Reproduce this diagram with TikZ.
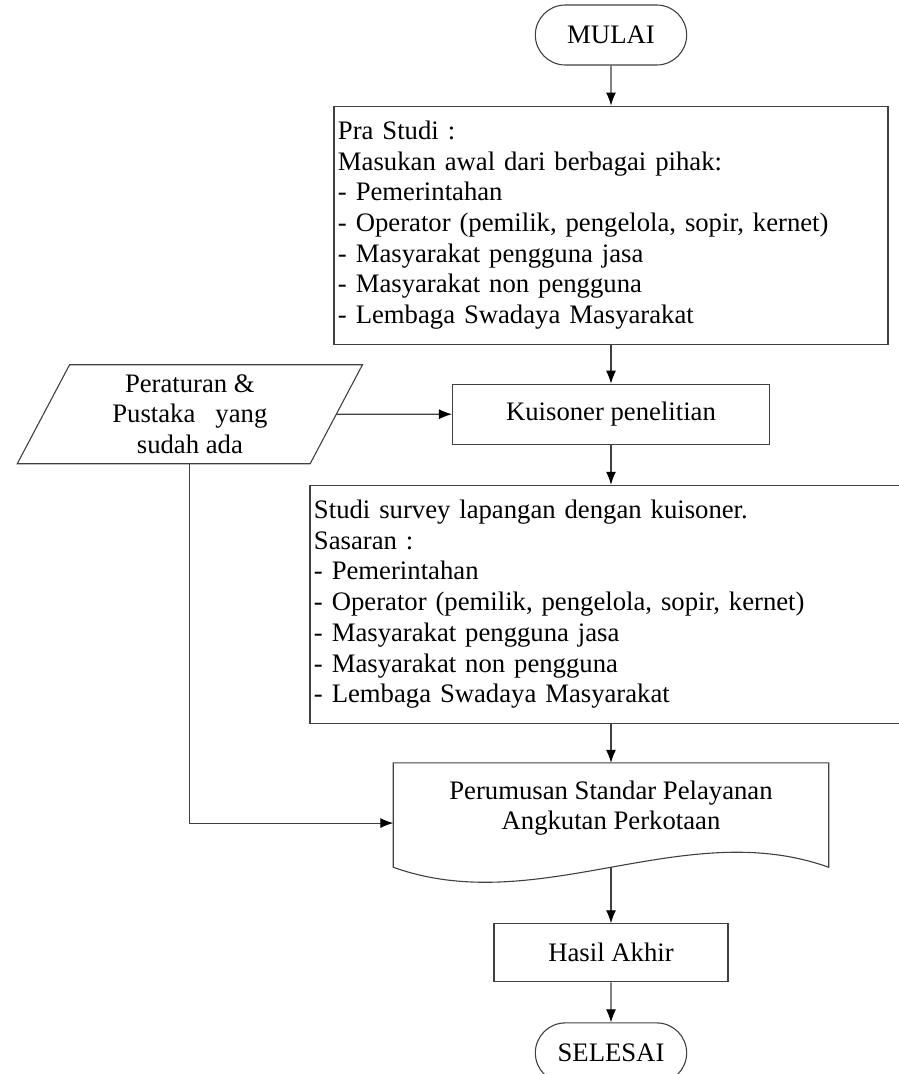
\documentclass[tikz,border=0pt]{standalone}
\usepackage{fontspec}
\setmainfont{Liberation Serif}
\usepackage{tikz}
\usetikzlibrary{shapes.geometric,shapes.misc,positioning,arrows.meta,calc}
\tikzstyle{arrow} = [draw, line width=1.1pt, draw=black!75, -{Latex[length=13pt,width=10pt,black]}]
\tikzstyle{line} = [draw, line width=1.1pt, draw=black!75]
\tikzset{
 tt/.style
  = {rounded rectangle, draw=black!75, line width=1.1pt, minimum width=158pt, minimum height=60pt},
 b/.style
  = {rectangle, draw=black!75, line width=1.1pt, text centered, minimum height=60pt},
 bl/.style
  = {rectangle, draw=black!75, line width=1.1pt, align=left, inner xsep=4pt, minimum height=238pt},
 io/.style
  = {trapezium, trapezium left angle=67, trapezium right angle=113, trapezium stretches=true,
     draw=black!75, line width=1.1pt, align=center, inner sep=0pt, minimum width=346pt, minimum height=99pt},
 dd/.style
  = {rectangle, align=center, minimum width=435pt, minimum height=90pt},
}

\begin{document}
\begin{tikzpicture}[x=1pt, y=1pt, font=\fontsize{26.7}{30.7}\selectfont]
    \useasboundingbox (-611,35) rectangle (287,-1039);
    \node [tt] (start) at (0,0) {MULAI};
    \node [bl, text width=546pt, below = 40pt of start] (pra) {Pra Studi :\\
      Masukan awal dari berbagai pihak:\\
      - Pemerintahan\\
      - Operator (pemilik, pengelola, sopir, kernet)\\
      - Masyarakat pengguna jasa\\
      - Masyarakat non pengguna\\
      - Lembaga Swadaya Masyarakat};
    \node [b, minimum width=317pt, below = 39pt of pra] (kuis) {Kuisoner penelitian};
    \node [io, left = 115pt of kuis] (pustaka) {Peraturan \&\\ Pustaka~~~yang\\ sudah ada};
    \node [bl, text width=594pt, below = 40pt of kuis] (survey) {Studi survey lapangan dengan kuisoner.\\
      Sasaran :\\
      - Pemerintahan\\
      - Operator (pemilik, pengelola, sopir, kernet)\\
      - Masyarakat pengguna jasa\\
      - Masyarakat non pengguna\\
      - Lembaga Swadaya Masyarakat};
    \node [dd, below = 39pt of survey] (rumus) {Perumusan Standar Pelayanan\\ Angkutan Perkotaan};
    \node [b, minimum width=234pt, minimum height=58pt, below = 70pt of rumus] (hasil) {Hasil Akhir};
    \node [tt, below = 40pt of hasil] (stop) {SELESAI};

    % document shape with wavy bottom
    \path [line] (rumus.north west) -- (rumus.north east) -- ([yshift=-14pt]rumus.south east)
      .. controls +(-145,52) and +(145,-52) .. ([yshift=-14pt]rumus.south west) -- cycle;

    \path [arrow] (start) -- (pra);
    \path [arrow] (pra) -- (kuis);
    \path [arrow] (pustaka) -- (kuis);
    \path [arrow] (kuis) -- (survey);
    \path [arrow] (survey) -- (rumus);
    \path [arrow] (pustaka.south) |- ([yshift=-15pt]rumus.west);
    \path [arrow] ([yshift=-14pt]rumus.south) -- (hasil);
    \path [arrow] (hasil) -- (stop);
  \end{tikzpicture}
\end{document}
